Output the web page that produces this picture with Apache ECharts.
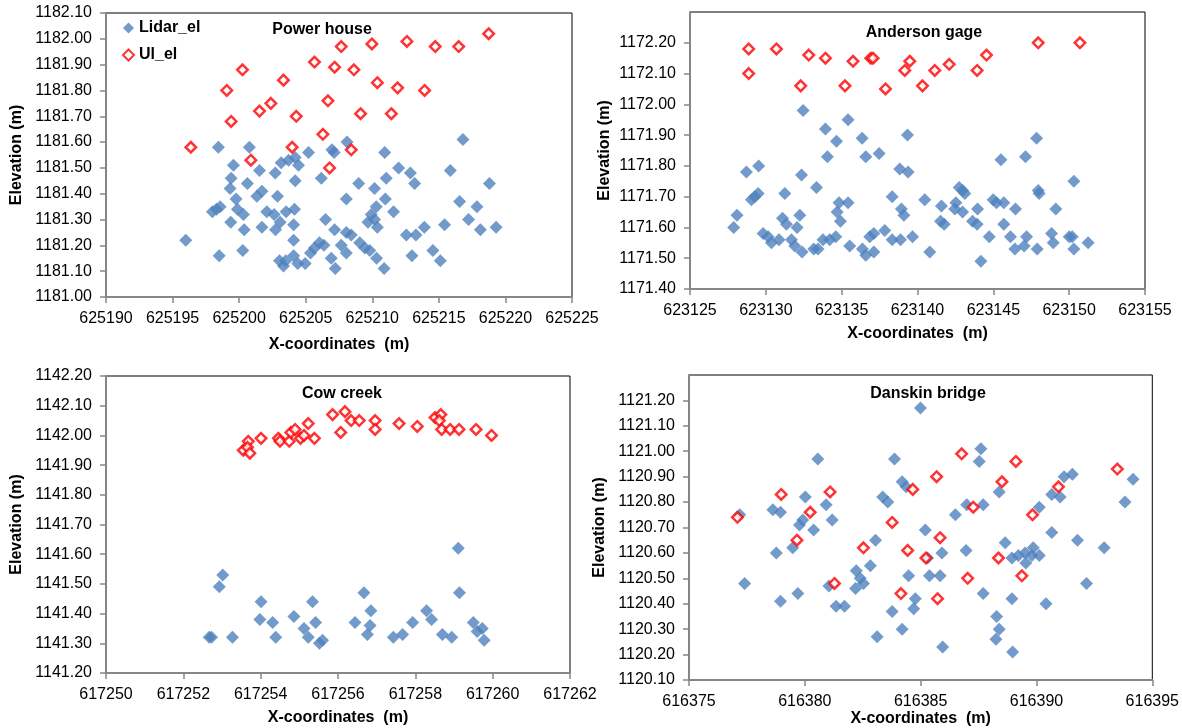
<!DOCTYPE html>
<html>
<head>
<meta charset="utf-8">
<script src="https://cdn.jsdelivr.net/npm/echarts@6/dist/echarts.min.js"></script>
<style>
  html, body { margin: 0; padding: 0; background: #fff; }
  #chart { width: 1182px; height: 728px; }
</style>
</head>
<body>
<div id="chart"></div>
<script>
// Power house
var powerLidar = [
  [625198.44,1181.58],[625200.77,1181.58],[625199.57,1181.51],[625199.40,1181.46],[625200.62,1181.44],
  [625201.53,1181.49],[625202.71,1181.48],[625203.16,1181.52],[625203.71,1181.53],[625204.21,1181.54],
  [625204.46,1181.51],[625199.32,1181.42],[625199.77,1181.38],[625201.33,1181.39],[625201.71,1181.41],
  [625202.88,1181.39],[625197.99,1181.33],[625198.57,1181.35],[625198.30,1181.34],[625199.87,1181.34],
  [625200.32,1181.32],[625202.08,1181.33],[625202.63,1181.32],[625203.53,1181.33],[625204.16,1181.34],
  [625199.37,1181.29],[625203.08,1181.29],[625204.09,1181.28],[625200.38,1181.26],[625201.71,1181.27],
  [625202.73,1181.26],[625195.99,1181.22],[625204.09,1181.22],[625198.50,1181.16],[625200.27,1181.18],
  [625203.03,1181.14],[625203.33,1181.12],[625203.50,1181.14],[625204.09,1181.16],[625204.40,1181.13],
  [625204.21,1181.45],[625205.21,1181.56],[625206.97,1181.57],[625207.14,1181.56],[625208.10,1181.60],
  [625206.17,1181.46],[625204.96,1181.13],[625205.36,1181.17],[625205.66,1181.19],[625206.03,1181.21],
  [625206.37,1181.20],[625206.49,1181.30],[625206.92,1181.15],[625207.22,1181.11],[625207.17,1181.26],
  [625207.67,1181.20],[625208.05,1181.17],[625208.05,1181.25],[625208.42,1181.24],[625208.05,1181.38],
  [625208.98,1181.44],[625209.06,1181.21],[625209.44,1181.19],[625209.81,1181.18],[625210.32,1181.15],
  [625210.89,1181.11],[625209.68,1181.29],[625209.92,1181.32],[625210.17,1181.30],[625210.38,1181.27],
  [625210.30,1181.35],[625210.17,1181.42],[625210.98,1181.38],[625211.05,1181.46],[625210.93,1181.56],
  [625211.60,1181.33],[625211.98,1181.50],[625212.86,1181.48],[625213.18,1181.44],[625212.56,1181.24],
  [625213.28,1181.24],[625213.91,1181.27],[625212.98,1181.16],[625214.55,1181.18],[625215.11,1181.14],
  [625215.43,1181.28],[625215.86,1181.49],[625216.81,1181.61],[625216.56,1181.37],[625217.23,1181.30],
  [625217.86,1181.35],[625218.12,1181.26],[625218.80,1181.44],[625219.30,1181.27]
];
var powerUl = [
  [625196.37,1181.58],[625199.07,1181.80],[625199.40,1181.68],[625200.25,1181.88],[625200.88,1181.53],
  [625201.53,1181.72],[625202.38,1181.75],[625203.33,1181.84],[625203.98,1181.58],[625204.29,1181.70],
  [625205.66,1181.91],[625206.29,1181.63],[625206.67,1181.76],[625206.79,1181.50],[625207.17,1181.89],
  [625207.67,1181.97],[625208.42,1181.57],[625208.62,1181.88],[625209.12,1181.71],[625209.97,1181.98],
  [625210.38,1181.83],[625211.43,1181.71],[625211.90,1181.81],[625212.60,1181.99],[625213.93,1181.80],
  [625214.73,1181.97],[625216.49,1181.97],[625218.74,1182.02]
];

// Anderson gage
var andersonLidar = [
  [623127.88,1171.60],[623128.10,1171.64],[623128.72,1171.78],[623129.53,1171.80],[623129.05,1171.69],
  [623129.49,1171.71],[623129.27,1171.70],[623129.82,1171.58],[623130.15,1171.57],[623130.37,1171.55],
  [623130.87,1171.56],[623131.25,1171.71],[623131.10,1171.63],[623131.36,1171.61],[623131.69,1171.56],
  [623131.91,1171.54],[623132.06,1171.60],[623132.24,1171.64],[623132.39,1171.52],[623132.35,1171.77],
  [623132.46,1171.98],[623133.16,1171.53],[623133.44,1171.53],[623133.34,1171.73],[623133.77,1171.56],
  [623133.93,1171.92],[623134.06,1171.83],[623134.21,1171.56],[623134.66,1171.88],[623134.61,1171.57],
  [623134.70,1171.65],[623134.83,1171.68],[623134.92,1171.62],[623135.42,1171.95],[623135.42,1171.68],
  [623135.53,1171.54],[623136.35,1171.89],[623136.59,1171.83],[623136.37,1171.53],[623136.59,1171.51],
  [623136.85,1171.57],[623137.12,1171.58],[623137.12,1171.52],[623137.47,1171.84],[623137.84,1171.59],
  [623138.33,1171.70],[623138.33,1171.56],[623138.83,1171.79],[623139.38,1171.78],[623139.34,1171.90],
  [623138.94,1171.66],[623139.10,1171.64],[623138.88,1171.56],[623139.67,1171.57],[623140.48,1171.69],
  [623140.81,1171.52],[623141.58,1171.67],[623141.52,1171.62],[623141.76,1171.61],[623142.53,1171.68],
  [623142.46,1171.66],[623142.75,1171.73],[623142.97,1171.72],[623143.12,1171.71],[623142.97,1171.65],
  [623143.63,1171.62],[623143.93,1171.61],[623143.96,1171.66],[623144.18,1171.49],[623144.73,1171.57],
  [623144.99,1171.69],[623145.21,1171.68],[623145.69,1171.68],[623145.50,1171.82],[623145.69,1171.61],
  [623146.13,1171.57],[623146.46,1171.66],[623146.42,1171.53],[623147.12,1171.83],[623147.19,1171.57],
  [623147.03,1171.54],[623147.85,1171.89],[623147.96,1171.72],[623148.02,1171.71],[623147.89,1171.53],
  [623148.84,1171.58],[623148.95,1171.55],[623149.12,1171.66],[623150.00,1171.57],[623150.20,1171.57],
  [623150.31,1171.75],[623150.31,1171.53],[623151.25,1171.55]
];
var andersonUl = [
  [623128.87,1172.18],[623128.87,1172.10],[623130.70,1172.18],[623132.30,1172.06],[623132.83,1172.16],
  [623133.93,1172.15],[623135.22,1172.06],[623135.75,1172.14],[623136.92,1172.15],[623137.07,1172.15],
  [623137.89,1172.05],[623139.16,1172.11],[623139.49,1172.14],[623140.33,1172.06],[623141.14,1172.11],
  [623142.09,1172.13],[623143.93,1172.11],[623144.55,1172.16],[623147.96,1172.20],[623150.71,1172.20]
];

// Cow creek
var cowLidar = [
  [617252.67,1141.32],[617252.73,1141.32],[617252.93,1141.49],[617253.02,1141.53],[617253.27,1141.32],
  [617254.01,1141.44],[617253.98,1141.38],[617254.31,1141.37],[617254.39,1141.32],[617254.86,1141.39],
  [617255.12,1141.35],[617255.23,1141.32],[617255.34,1141.44],[617255.42,1141.37],[617255.52,1141.30],
  [617255.60,1141.31],[617256.44,1141.37],[617256.67,1141.47],[617256.85,1141.41],[617256.83,1141.36],
  [617256.76,1141.33],[617257.43,1141.32],[617257.67,1141.33],[617257.93,1141.37],[617258.29,1141.41],
  [617258.42,1141.38],[617258.70,1141.33],[617258.94,1141.32],[617259.11,1141.62],[617259.14,1141.47],
  [617259.50,1141.37],[617259.60,1141.34],[617259.73,1141.35],[617259.78,1141.31]
];
var cowUl = [
  [617253.55,1141.95],[617253.68,1141.98],[617253.66,1141.96],[617253.72,1141.94],[617254.01,1141.99],
  [617254.46,1141.99],[617254.50,1141.98],[617254.74,1141.98],[617254.78,1142.01],[617254.89,1142.02],
  [617255.03,1141.99],[617255.12,1142.00],[617255.23,1142.04],[617255.39,1141.99],[617255.86,1142.07],
  [617256.07,1142.01],[617256.18,1142.08],[617256.34,1142.05],[617256.55,1142.05],[617256.96,1142.05],
  [617256.96,1142.02],[617257.58,1142.04],[617258.05,1142.03],[617258.51,1142.06],[617258.66,1142.07],
  [617258.62,1142.05],[617258.68,1142.02],[617258.90,1142.02],[617259.13,1142.02],[617259.57,1142.02],
  [617259.97,1142.00]
];

// Danskin bridge
var danskinLidar = [
  [616377.19,1120.75],[616377.40,1120.48],[616378.62,1120.77],[616378.95,1120.76],[616378.77,1120.60],
  [616378.95,1120.41],[616379.48,1120.62],[616379.70,1120.44],[616379.77,1120.71],[616379.91,1120.73],
  [616380.02,1120.82],[616380.38,1120.69],[616380.56,1120.97],[616380.92,1120.79],[616381.18,1120.73],
  [616381.04,1120.47],[616381.35,1120.39],[616381.71,1120.39],[616382.22,1120.53],[616382.19,1120.46],
  [616382.39,1120.50],[616382.53,1120.48],[616382.83,1120.55],[616383.05,1120.65],[616383.12,1120.27],
  [616383.36,1120.82],[616383.58,1120.80],[616383.77,1120.37],[616383.87,1120.97],[616384.20,1120.88],
  [616384.37,1120.86],[616384.20,1120.30],[616384.48,1120.51],[616384.77,1120.42],[616384.70,1120.38],
  [616384.99,1121.17],[616385.20,1120.69],[616385.30,1120.58],[616385.38,1120.51],[616385.84,1120.51],
  [616385.92,1120.60],[616385.95,1120.23],[616386.50,1120.75],[616386.96,1120.61],[616386.99,1120.79],
  [616387.53,1120.96],[616387.60,1121.01],[616387.70,1120.79],[616387.70,1120.44],[616388.28,1120.35],
  [616388.39,1120.30],[616388.25,1120.26],[616388.39,1120.84],[616388.65,1120.64],[616388.94,1120.42],
  [616388.97,1120.21],[616388.94,1120.58],[616389.22,1120.59],[616389.51,1120.60],[616389.54,1120.56],
  [616389.80,1120.59],[616389.86,1120.62],[616390.12,1120.59],[616390.12,1120.78],[616390.41,1120.40],
  [616390.66,1120.68],[616390.66,1120.83],[616391.02,1120.82],[616391.19,1120.90],[616391.55,1120.91],
  [616391.77,1120.65],[616392.16,1120.48],[616392.92,1120.62],[616393.82,1120.80],[616394.17,1120.89]
];
var danskinUl = [
  [616377.09,1120.74],[616378.98,1120.83],[616379.66,1120.65],[616380.23,1120.76],[616381.09,1120.84],
  [616381.28,1120.48],[616382.53,1120.62],[616383.77,1120.72],[616384.15,1120.44],[616384.44,1120.61],
  [616384.66,1120.85],[616385.23,1120.58],[616385.69,1120.90],[616385.73,1120.42],[616385.84,1120.66],
  [616386.77,1120.99],[616387.03,1120.50],[616387.27,1120.78],[616388.36,1120.58],[616388.51,1120.88],
  [616389.11,1120.96],[616389.37,1120.51],[616389.83,1120.75],[616390.95,1120.86],[616393.49,1120.93]
];

var panelTitles = ['Power house', 'Anderson gage', 'Cow creek', 'Danskin bridge'];
var xRanges = [[625190, 625225, 5], [623125, 623155, 5], [617250, 617262, 2], [616375, 616395, 5]];
var yRanges = [[1181.0, 1182.1, 0.1], [1171.4, 1172.3, 0.1], [1141.2, 1142.2, 0.1], [1120.1, 1121.3, 0.1]];

var FONT = '"Liberation Sans", Arial, sans-serif';
var BLUE = '#4F81BD';

var grids = [
  {left: 106, top: 13, width: 466, height: 284},
  {left: 690, top: 12, width: 455, height: 277},
  {left: 106, top: 376, width: 464, height: 297},
  {left: 689, top: 375, width: 464, height: 305}
];
var xNameGap = [40, 37, 37, 31];
var yNameGap = [81, 77, 81, 81];
var hideMaxY = [false, true, false, true];
var titlePos = [[317, 17], [919, 20], [337, 381], [923, 381]];

var chart = echarts.init(document.getElementById('chart'));

var xAxes = [], yAxes = [], titles = [];
for (var i = 0; i < 4; i++) {
  grids[i].show = true;
  grids[i].borderColor = '#000';
  grids[i].borderWidth = 1;
  grids[i].backgroundColor = '#fff';
  xAxes.push({
    gridIndex: i, type: 'value',
    min: xRanges[i][0], max: xRanges[i][1], interval: xRanges[i][2],
    name: 'X-coordinates  (m)', nameLocation: 'middle', nameGap: xNameGap[i],
    nameTextStyle: {fontFamily: FONT, fontWeight: 'bold', fontSize: 16, color: '#000'},
    axisLine: {lineStyle: {color: '#868686', width: 2}},
    axisTick: {inside: false, length: 6, lineStyle: {color: '#868686', width: 1.5}},
    axisLabel: {margin: 14, fontFamily: FONT, fontSize: 16, color: '#000',
      formatter: function (v) { return String(Math.round(v)); }},
    splitLine: {show: false}
  });
  yAxes.push({
    gridIndex: i, type: 'value',
    min: yRanges[i][0], max: yRanges[i][1], interval: yRanges[i][2],
    name: 'Elevation (m)', nameLocation: 'middle', nameGap: yNameGap[i],
    nameTextStyle: {fontFamily: FONT, fontWeight: 'bold', fontSize: 16, color: '#000'},
    axisLine: {show: true, lineStyle: {color: '#868686', width: 2}},
    axisTick: {show: true, inside: false, length: 6, lineStyle: {color: '#868686', width: 1.5}},
    axisLabel: {margin: 14, fontFamily: FONT, fontSize: 16, color: '#000',
      showMaxLabel: !hideMaxY[i],
      formatter: function (v) { return v.toFixed(2); }},
    splitLine: {show: false}
  });
  titles.push({
    text: panelTitles[i], left: titlePos[i][0], top: titlePos[i][1], textAlign: 'center',
    textStyle: {fontFamily: FONT, fontWeight: 'bold', fontSize: 16, color: '#000'}
  });
}

function lidar(data, idx) {
  return {
    name: 'Lidar_el', type: 'scatter', xAxisIndex: idx, yAxisIndex: idx,
    symbol: 'diamond', symbolSize: 13, data: data,
    itemStyle: {color: BLUE}
  };
}
function ul(data, idx) {
  return {
    name: 'Ul_el', type: 'scatter', xAxisIndex: idx, yAxisIndex: idx,
    symbol: 'diamond', symbolSize: 10.5, data: data,
    itemStyle: {color: '#fff', borderColor: '#FF0000', borderWidth: 2.5}
  };
}

chart.setOption({
  animation: false,
  backgroundColor: '#fff',
  title: titles,
  legend: {
    data: ['Lidar_el', 'Ul_el'], orient: 'vertical', left: 122, top: 20, padding: 0,
    itemWidth: 11, itemHeight: 11, itemGap: 11,
    textStyle: {fontFamily: FONT, fontWeight: 'bold', fontSize: 16, color: '#000'}
  },
  grid: grids,
  xAxis: xAxes,
  yAxis: yAxes,
  series: [
    lidar(powerLidar, 0), ul(powerUl, 0),
    lidar(andersonLidar, 1), ul(andersonUl, 1),
    lidar(cowLidar, 2), ul(cowUl, 2),
    lidar(danskinLidar, 3), ul(danskinUl, 3)
  ]
});
</script>
</body>
</html>
